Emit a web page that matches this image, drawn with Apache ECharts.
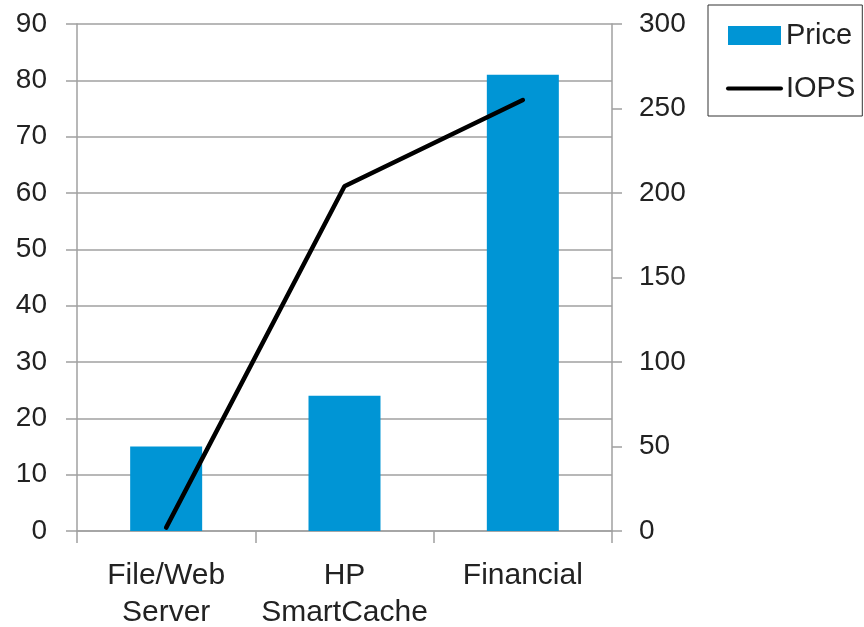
<!DOCTYPE html>
<html><head><meta charset="utf-8">
<script src="https://cdn.jsdelivr.net/npm/echarts@6/dist/echarts.min.js"></script>
<style>html,body{margin:0;padding:0;background:#fff}#c{width:864px;height:627px}</style>
</head><body><div id="c"></div>
<script>
const categories = ['File/Web\nServer', 'HP\nSmartCache', 'Financial'];
const price = [15, 24, 81];
const iops = [2, 204, 255];
const leftTicks = [0, 90, 10];
const rightTicks = [0, 300, 50];
const font = 'Liberation Sans';
const chart = echarts.init(document.getElementById('c'));
chart.setOption({
  animation: false,
  backgroundColor: '#fff',
  textStyle: {fontFamily: font},
  grid: {left: 77, right: 252, top: 24, bottom: 96, outerBoundsMode: 'none', containLabel: false},
  legend: {
    left: 708, top: 5, orient: 'vertical',
    padding: [16, 7, 13, 18], itemGap: 24,
    borderColor: '#333', borderWidth: 1,
    itemWidth: 53, itemHeight: 19,
    textStyle: {fontFamily: font, fontSize: 29, color: '#222', lineHeight: 19},
    data: [{name: 'Price', icon: 'rect'}, {name: 'IOPS', itemStyle: {opacity: 0}, lineStyle: {width: 4, color: '#000'}}]
  },
  xAxis: {
    type: 'category', data: categories,
    axisLine: {lineStyle: {color: '#a0a0a0', width: 1.5}},
    axisTick: {show: true, length: 12, lineStyle: {color: '#a0a0a0', width: 1.5}},
    axisLabel: {fontSize: 30, color: '#222', margin: 26, lineHeight: 37, interval: 0, fontFamily: font}
  },
  yAxis: [{
    type: 'value', min: leftTicks[0], max: leftTicks[1], interval: leftTicks[2],
    axisLine: {show: true, lineStyle: {color: '#a0a0a0', width: 1.5}},
    axisTick: {show: true, length: 11, lineStyle: {color: '#a0a0a0', width: 1.5}},
    splitLine: {show: true, lineStyle: {color: '#a0a0a0', width: 1.5}},
    axisLabel: {fontSize: 28, color: '#222', margin: 30, fontFamily: font}
  }, {
    type: 'value', min: rightTicks[0], max: rightTicks[1], interval: rightTicks[2],
    position: 'right',
    axisLine: {show: true, lineStyle: {color: '#a0a0a0', width: 1.5}},
    axisTick: {show: true, length: 10, lineStyle: {color: '#a0a0a0', width: 1.5}},
    splitLine: {show: false},
    axisLabel: {fontSize: 28, color: '#222', margin: 27, fontFamily: font}
  }],
  series: [{
    name: 'Price', type: 'bar', data: price, barWidth: 72, yAxisIndex: 0,
    itemStyle: {color: '#0095d5'}
  }, {
    name: 'IOPS', type: 'line', data: iops, yAxisIndex: 1, symbol: 'none',
    lineStyle: {color: '#000', width: 4.5, cap: 'round'},
    itemStyle: {color: '#000'}
  }]
});
</script></body></html>
